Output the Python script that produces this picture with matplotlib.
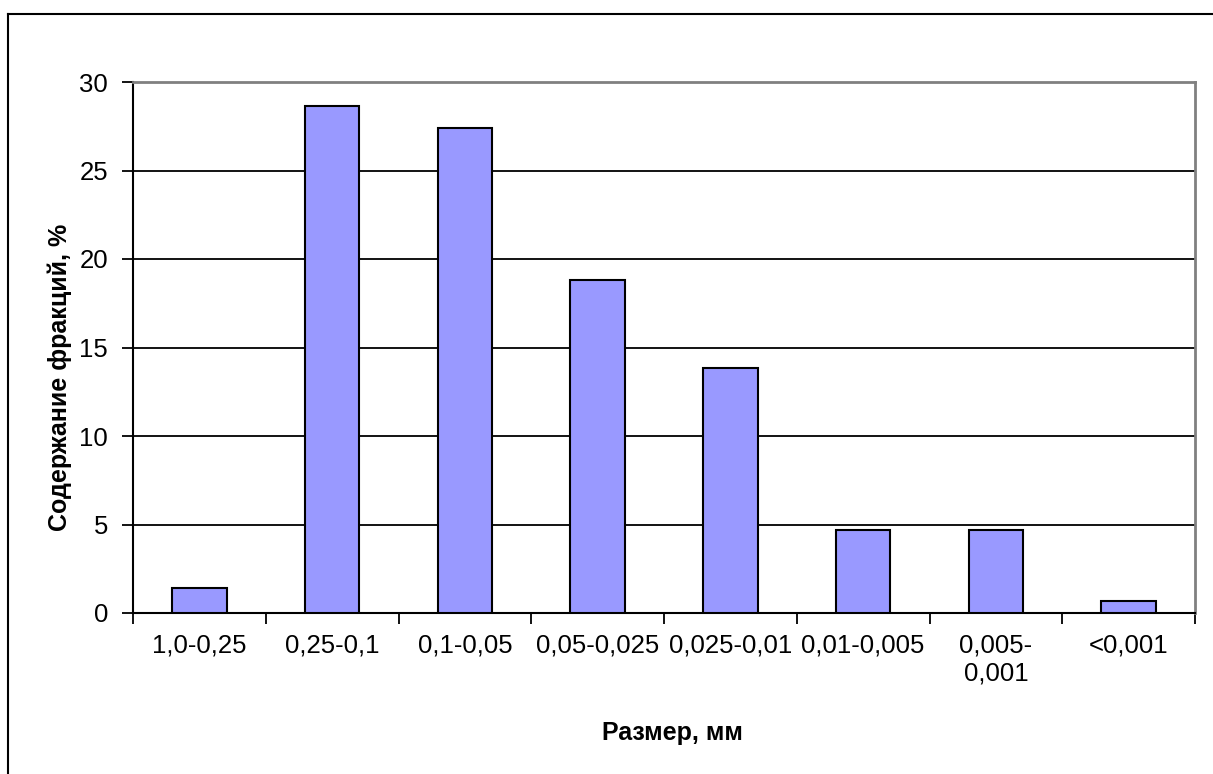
import matplotlib.pyplot as plt
import numpy as np

plt.rcParams['font.family'] = ['Liberation Sans', 'DejaVu Sans']

# fraction content by particle size
categories = ['1,0-0,25', '0,25-0,1', '0,1-0,05', '0,05-0,025',
              '0,025-0,01', '0,01-0,005', '0,005-\n0,001', '<0,001']
values = [1.4, 28.65, 27.4, 18.8, 13.85, 4.7, 4.7, 0.7]
yticks = [0, 5, 10, 15, 20, 25, 30]

fig = plt.figure(figsize=(12.13, 7.74), dpi=100)
ax = fig.add_axes([133/1213, 1 - 613/774, (1195-133)/1213, (613-82)/774])

x = np.arange(len(categories)) + 0.5
ax.bar(x, values, width=0.41, color='#9999FF', edgecolor='black',
       linewidth=1.5, zorder=3)

ax.set_xlim(0, len(categories))
ax.set_ylim(0, 30)
ax.set_yticks(yticks)
ax.set_yticklabels([str(t) for t in yticks], fontsize=18.5)
ax.yaxis.grid(True, color='black', linewidth=1.3, zorder=0)
ax.set_axisbelow(True)

# category labels sit between boundary ticks
ax.set_xticks(np.arange(len(categories) + 1))
ax.set_xticklabels([])
ax.set_xticks(x, minor=True)
ax.set_xticklabels(categories, minor=True, fontsize=18.5, linespacing=1.2,
                   va='top')
ax.tick_params(axis='x', which='minor', length=0, pad=15)
ax.tick_params(axis='x', which='major', length=8, width=1.3, direction='out')
ax.tick_params(axis='y', length=8, width=1.3, direction='out', pad=10)

ax.spines['left'].set_linewidth(1.5)
ax.spines['bottom'].set_linewidth(1.5)
for s in ('top', 'right'):
    ax.spines[s].set_color('#808080')
    ax.spines[s].set_linewidth(2)

fig.text(60/1213, 1 - 377/774, 'Содержание фракций, %', fontsize=18,
         fontweight='bold', rotation=90, ha='center', va='center')
fig.text(672/1213, 1 - 733/774, 'Размер, мм', fontsize=18,
         fontweight='bold', ha='center', va='center')

# outer chart frame: only left and top edges fall inside the image
fig.add_artist(plt.Line2D([8/1213, 8/1213], [0, 1 - 14/774],
                          transform=fig.transFigure, color='black', lw=1.5))
fig.add_artist(plt.Line2D([8/1213, 1], [1 - 14/774, 1 - 14/774],
                          transform=fig.transFigure, color='black', lw=1.5))

fig.savefig('out.png', dpi=100)
